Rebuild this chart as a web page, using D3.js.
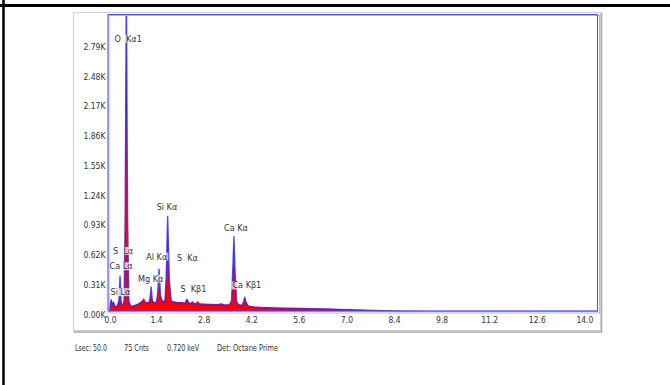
<!DOCTYPE html>
<html>
<head>
<meta charset="utf-8">
<script src="https://cdn.jsdelivr.net/npm/d3@7/dist/d3.min.js"></script>
<style>
  html, body { margin: 0; padding: 0; background: #fff; }
  svg { display: block; }
  text { font-family: "DejaVu Sans", sans-serif; font-stretch: condensed; fill: #333; }
</style>
</head>
<body>
<svg id="chart" width="670" height="385"></svg>
<script>
// EDS spectrum: energy (keV) and counts for the filled spectrum and the outline spectrum
const energyKeV = [0.00, 0.04, 0.08, 0.11, 0.15, 0.19, 0.23, 0.28, 0.31, 0.34, 0.37, 0.41, 0.46, 0.49, 0.525, 0.56, 0.60, 0.66, 0.74, 0.82, 0.90, 0.97, 1.04, 1.10, 1.18, 1.22, 1.253, 1.29, 1.34, 1.41, 1.45, 1.486, 1.53, 1.59, 1.66, 1.70, 1.74, 1.79, 1.85, 1.95, 2.05, 2.15, 2.24, 2.307, 2.37, 2.43, 2.464, 2.52, 2.58, 2.62, 2.68, 2.80, 3.00, 3.20, 3.31, 3.42, 3.55, 3.62, 3.66, 3.69, 3.72, 3.77, 3.84, 3.93, 3.98, 4.01, 4.05, 4.12, 4.30, 4.60, 5.00, 5.60, 6.40, 7.00, 7.80, 8.60, 9.40, 10.2, 11.0, 12.0, 13.0, 14.0, 14.4];
const countsFill = [0, 70, 130, 90, 110, 60, 55, 90, 120, 290, 110, 60, 130, 900, 3300, 900, 120, 60, 65, 75, 90, 110, 140, 100, 100, 130, 230, 120, 100, 105, 180, 380, 160, 110, 120, 350, 960, 300, 115, 105, 100, 100, 95, 135, 95, 90, 105, 88, 90, 110, 85, 82, 80, 78, 85, 75, 75, 120, 450, 740, 420, 110, 75, 72, 110, 140, 100, 62, 52, 46, 42, 38, 32, 24, 12, 4, 0, 0, 0, 0, 0, 0, 0];
const countsLine = [0, 40, 120, 70, 90, 50, 45, 70, 130, 370, 100, 50, 110, 1000, 3400, 1000, 100, 50, 55, 65, 75, 85, 100, 85, 85, 130, 255, 110, 85, 90, 200, 440, 170, 90, 100, 380, 990, 320, 95, 88, 85, 80, 78, 125, 80, 78, 100, 72, 70, 80, 68, 66, 64, 62, 68, 60, 60, 110, 470, 780, 440, 95, 60, 56, 110, 150, 90, 48, 40, 36, 32, 28, 24, 18, 10, 4, 1, 0, 0, 0, 0, 0, 0];

// Axis ticks
const xTicks = [0.0, 1.4, 2.8, 4.2, 5.6, 7.0, 8.4, 9.8, 11.2, 12.6, 14.0];
const yTicks = [0, 310, 620, 930, 1240, 1550, 1860, 2170, 2480, 2790];
const yTickLabels = ["0.00K", "0.31K", "0.62K", "0.93K", "1.24K", "1.55K", "1.86K", "2.17K", "2.48K", "2.79K"];

// Peak identification labels, anchored at (keV, counts)
const peakNames = ["O  K\u03b11", "S  L\u03b1", "Ca L\u03b1", "Si L\u03b1", "Mg K\u03b1", "Al K\u03b1", "Si K\u03b1", "S  K\u03b1", "S  K\u03b21", "Ca K\u03b1", "Ca K\u03b21"];
const peakLabelKeV = [0.58, 0.43, 0.37, 0.35, 1.24, 1.42, 1.72, 2.32, 2.50, 3.75, 4.07];
const peakLabelCounts = [2810, 600, 440, 170, 310, 540, 1060, 530, 200, 840, 240];

// Acquisition info line
const footerItems = ["Lsec: 50.0", "75 Cnts", "0.720 keV", "Det: Octane Prime"];

const svg = d3.select("#chart");
const plot = { left: 108.5, right: 598, top: 15, bottom: 311.5 };

const x = d3.scaleLinear().domain([0, 14.4]).range([plot.left, plot.right]);
const y = d3.scaleLinear().domain([0, 3087]).range([plot.bottom, plot.top]);

// Outer page rules
svg.append("line").attr("x1", 0).attr("x2", 670).attr("y1", 5.5).attr("y2", 5.5)
  .attr("stroke", "#000").attr("stroke-width", 3);
svg.append("line").attr("x1", 3.5).attr("x2", 3.5).attr("y1", 0).attr("y2", 385)
  .attr("stroke", "#000").attr("stroke-width", 2.5);

// Gray panel with a soft shadow edge
svg.append("rect").attr("x", 74.5).attr("y", 13.5).attr("width", 527).attr("height", 318.5)
  .attr("fill", "none").attr("stroke", "#a8a8a8").attr("stroke-width", 1.5);
svg.append("rect").attr("x", 73.5).attr("y", 12.5).attr("width", 527).attr("height", 318)
  .attr("fill", "#fff").attr("stroke", "#cfcfcf").attr("stroke-width", 1);

// Clip to the plotting area
svg.append("defs").append("clipPath").attr("id", "plotClip")
  .append("rect").attr("x", plot.left).attr("y", plot.top)
  .attr("width", plot.right - plot.left).attr("height", plot.bottom - plot.top);

const fillData = energyKeV.map((e, i) => [e, countsFill[i]]);
const lineData = energyKeV.map((e, i) => [e, countsLine[i]]);

const g = svg.append("g").attr("clip-path", "url(#plotClip)");

g.append("path").datum(fillData)
  .attr("fill", "#ff0000")
  .attr("d", d3.area().x(d => x(d[0])).y0(y(0)).y1(d => y(d[1])));

g.append("path").datum(lineData)
  .attr("fill", "none")
  .attr("stroke", "#2a2aff")
  .attr("stroke-opacity", 0.85)
  .attr("stroke-width", 1.4)
  .attr("stroke-linejoin", "round")
  .attr("d", d3.line().x(d => x(d[0])).y(d => y(d[1])));

// Peak labels with a translucent backing
const labels = svg.append("g");
peakNames.forEach((name, i) => {
  const lg = labels.append("g");
  const t = lg.append("text")
    .attr("x", x(peakLabelKeV[i])).attr("y", y(peakLabelCounts[i]))
    .attr("text-anchor", "middle").attr("font-size", 9)
    .attr("fill", "#333")
    .attr("xml:space", "preserve")
    .style("white-space", "pre")
    .text(name);
  const bb = t.node().getBBox();
  lg.insert("rect", "text")
    .attr("x", bb.x - 1).attr("y", bb.y + 1)
    .attr("width", bb.width + 2).attr("height", bb.height - 2)
    .attr("fill", "#fff").attr("fill-opacity", 0.7);
});

// Plot frame
svg.append("rect").attr("x", plot.left + 0.5).attr("y", plot.top + 0.5)
  .attr("width", plot.right - plot.left + 1).attr("height", plot.bottom - plot.top + 1)
  .attr("fill", "none").attr("stroke", "#b0b4ff").attr("stroke-width", 1);
svg.append("rect").attr("x", plot.left - 0.5).attr("y", plot.top - 0.5)
  .attr("width", plot.right - plot.left).attr("height", plot.bottom - plot.top)
  .attr("fill", "none").attr("stroke", "#4848ff").attr("stroke-width", 1);

// Axes
const xAxis = d3.axisBottom(x).tickValues(xTicks).tickFormat(d3.format(".1f")).tickSize(0).tickPadding(4);
const xg = svg.append("g").attr("transform", `translate(0,${plot.bottom + 1})`).call(xAxis);
xg.select(".domain").remove();
xg.selectAll("text").attr("font-size", 8.5).attr("fill", "#333")
  .style("font-family", '"DejaVu Sans", sans-serif').style("font-stretch", "condensed");
xg.selectAll(".tick").filter(d => d === 0).select("text").attr("dx", 1.5);

const yAxis = d3.axisLeft(y).tickValues(yTicks).tickFormat((d, i) => yTickLabels[i]).tickSize(0).tickPadding(3);
const yg = svg.append("g").attr("transform", `translate(${plot.left},0)`).call(yAxis);
yg.select(".domain").remove();
yg.selectAll("text").attr("font-size", 8.5).attr("fill", "#333").attr("dy", "0.68em")
  .style("font-family", '"DejaVu Sans", sans-serif').style("font-stretch", "condensed");

// Footer: narrow acquisition line, each item squeezed to its slot
const footerX = [75, 124, 167, 217];
const footerW = [32, 25, 32, 61];
svg.append("g").selectAll("text").data(footerItems).join("text")
  .attr("x", (d, i) => footerX[i]).attr("y", 350.5)
  .attr("font-size", 8.5).attr("fill", "#333")
  .attr("textLength", (d, i) => footerW[i])
  .attr("lengthAdjust", "spacingAndGlyphs")
  .text(d => d);
</script>
</body>
</html>
